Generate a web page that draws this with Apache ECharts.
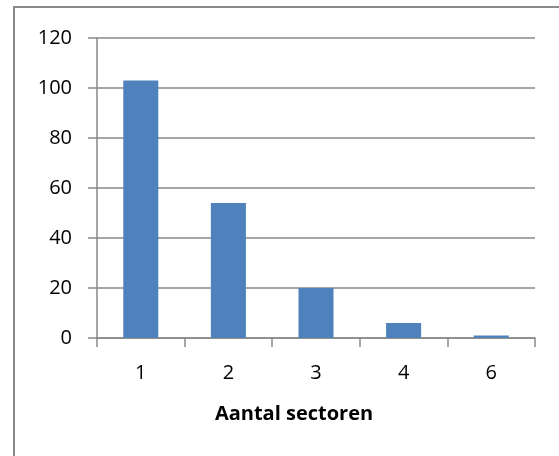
<!DOCTYPE html>
<html>
<head>
<meta charset="utf-8">
<script src="https://cdn.jsdelivr.net/npm/echarts@6/dist/echarts.min.js"></script>
<style>
  html, body { margin: 0; padding: 0; background: #ffffff; }
  #chart { width: 559px; height: 456px; }
</style>
</head>
<body>
<div id="chart"></div>
<script>
// Number of sectors per company and how many companies fall in each group
const categories = ['1', '2', '3', '4', '6'];
const counts = [103, 54, 20, 6, 1];
const yTicks = { min: 0, max: 120, interval: 20 };
const axisTitle = 'Aantal sectoren';

const gray = '#898989';
const fontFamily = '"Open Sans", "Noto Sans", sans-serif';

const chart = echarts.init(document.getElementById('chart'), null, { renderer: 'canvas' });

chart.setOption({
  animation: false,
  backgroundColor: '#ffffff',
  graphic: [{
    type: 'rect',
    shape: { x: 14, y: 7, width: 700, height: 600 },
    style: { fill: 'none', stroke: gray, lineWidth: 2 },
    silent: true
  }, {
    type: 'text',
    x: 294,
    y: 414,
    style: {
      text: axisTitle,
      align: 'center',
      verticalAlign: 'middle',
      font: 'bold 20px "Open Sans", "Noto Sans", sans-serif',
      fill: '#000'
    },
    silent: true
  }],
  grid: { left: 97, top: 38, right: 24, bottom: 118, containLabel: false },
  xAxis: {
    type: 'category',
    data: categories,
    boundaryGap: true,
    axisLine: { show: true, lineStyle: { color: gray, width: 1.5 } },
    axisTick: { show: true, inside: false, length: 9, alignWithLabel: false, lineStyle: { color: gray, width: 1.5 } },
    axisLabel: { fontFamily, fontSize: 20, color: '#000', margin: 25 },
    splitLine: { show: false }
  },
  yAxis: {
    type: 'value',
    min: yTicks.min,
    max: yTicks.max,
    interval: yTicks.interval,
    axisLine: { show: true, lineStyle: { color: gray, width: 1.5 } },
    axisTick: { show: true, inside: false, length: 9, lineStyle: { color: gray, width: 1.5 } },
    axisLabel: { fontFamily, fontSize: 20, color: '#000', margin: 25 },
    splitLine: { show: true, lineStyle: { color: gray, width: 1.5 } }
  },
  series: [{
    type: 'bar',
    data: counts,
    barWidth: '40%',
    itemStyle: { color: '#4F81BD' }
  }]
});
</script>
</body>
</html>
